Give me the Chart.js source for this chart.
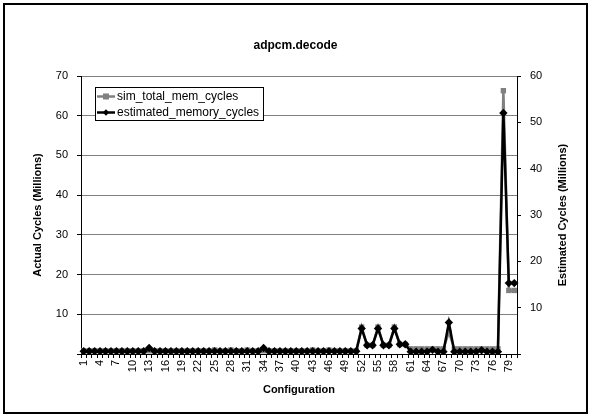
<!DOCTYPE html>
<html>
<head>
<meta charset="utf-8">
<script src="https://cdn.jsdelivr.net/npm/chart.js@4"></script>
<style>
html,body{margin:0;padding:0;background:#fff;}
#wrap{width:591px;height:417px;}
</style>
</head>
<body>
<div id="wrap"><canvas id="c" width="591" height="417"></canvas></div>
<script>
const categories = [1,2,3,4,5,6,7,8,9,10,11,12,13,14,15,16,17,18,19,20,
21,22,23,24,25,26,27,28,29,30,31,32,33,34,35,36,37,38,39,40,
41,42,43,44,45,46,47,48,49,50,51,52,53,54,55,56,57,58,59,60,
61,62,63,64,65,66,67,68,69,70,71,72,73,74,75,76,77,78,79,80];

const simTotalMemCycles = [
0.8,0.8,0.8,0.8,0.8,0.8,0.8,0.8,0.8,0.8,
0.8,0.8,0.8,0.8,0.8,0.8,0.8,0.8,0.8,0.8,
0.8,0.8,0.8,0.8,1.0,0.8,0.8,1.0,0.8,0.8,
1.0,0.8,0.8,0.8,0.8,0.8,0.8,0.8,0.8,0.8,
0.8,0.8,1.0,0.8,0.8,1.0,0.8,0.8,0.8,0.8,
0.8,6.8,2.2,2.2,6.8,2.2,2.2,6.8,2.4,2.4,
1.3,1.3,1.3,1.3,1.3,1.3,1.3,5.5,1.3,1.3,
1.3,1.3,1.3,1.3,1.3,1.3,1.3,66.3,16.0,16.0];

const estimatedMemoryCycles = [
0.6,0.6,0.6,0.6,0.6,0.6,0.6,0.6,0.6,0.6,
0.6,0.6,1.3,0.6,0.6,0.6,0.6,0.6,0.6,0.6,
0.6,0.6,0.6,0.6,0.6,0.6,0.6,0.6,0.6,0.6,
0.6,0.6,0.6,1.3,0.6,0.6,0.6,0.6,0.6,0.6,
0.6,0.6,0.6,0.6,0.6,0.6,0.6,0.6,0.6,0.6,
0.6,5.5,1.9,1.9,5.5,1.9,1.9,5.5,2.1,2.1,
0.5,0.5,0.5,0.5,0.9,0.5,0.5,6.8,0.5,0.5,
0.5,0.5,0.5,0.8,0.5,0.5,0.5,52.0,15.3,15.3];

const leftTicks = [0,10,20,30,40,50,60,70];
const rightTicks = [0,10,20,30,40,50,60];
const seriesNames = ['sim_total_mem_cycles','estimated_memory_cycles'];
const chartTitle = 'adpcm.decode';
const xTitle = 'Configuration';
const leftTitle = 'Actual Cycles (Millions)';
const rightTitle = 'Estimated Cycles (Millions)';

const FONT = "'Liberation Sans', Arial, sans-serif";
const GRAY = '#808080';

const bgPlugin = {
  id: 'bg',
  beforeDraw(chart) {
    const ctx = chart.ctx;
    ctx.save();
    ctx.fillStyle = '#fff';
    ctx.fillRect(0, 0, chart.width, chart.height);
    ctx.restore();
  },
  afterDraw(chart) {
    const ctx = chart.ctx;
    const ca = chart.chartArea;
    ctx.save();
    // outer frame
    ctx.strokeStyle = '#000';
    ctx.lineWidth = 2;
    ctx.strokeRect(4, 4, chart.width - 8, chart.height - 8);
    // right axis title (reads bottom to top)
    ctx.translate(562.5, (ca.top + ca.bottom) / 2);
    ctx.rotate(-Math.PI / 2);
    ctx.font = "bold 11px " + FONT;
    ctx.fillStyle = '#000';
    ctx.textAlign = 'center';
    ctx.textBaseline = 'middle';
    ctx.fillText(rightTitle, 0, 0);
    ctx.restore();

    // legend box inside plot
    const lx = ca.left + 14, ly = ca.top + 11, lw = 168, lh = 33;
    ctx.save();
    ctx.fillStyle = '#fff';
    ctx.fillRect(lx, ly, lw, lh);
    ctx.strokeStyle = '#000';
    ctx.lineWidth = 1;
    ctx.strokeRect(lx + 0.5, ly + 0.5, lw, lh);
    const rows = [ly + 9.5, ly + 25.5];
    const colors = [GRAY, '#000'];
    for (let i = 0; i < 2; i++) {
      const y = rows[i];
      ctx.strokeStyle = colors[i];
      ctx.lineWidth = 2.5;
      ctx.beginPath();
      ctx.moveTo(lx + 2, y);
      ctx.lineTo(lx + 20, y);
      ctx.stroke();
      ctx.fillStyle = colors[i];
      const cx = lx + 11;
      if (i === 0) {
        ctx.fillRect(cx - 3, y - 3, 6, 6);
      } else {
        ctx.beginPath();
        ctx.moveTo(cx - 3.2, y);
        ctx.lineTo(cx, y - 3.2);
        ctx.lineTo(cx + 3.2, y);
        ctx.lineTo(cx, y + 3.2);
        ctx.closePath();
        ctx.fill();
      }
      ctx.fillStyle = '#000';
      ctx.font = "12px " + FONT;
      ctx.textAlign = 'left';
      ctx.textBaseline = 'middle';
      ctx.fillText(seriesNames[i], lx + 22, y + 0.5);
    }
    ctx.restore();
  }
};

new Chart(document.getElementById('c'), {
  type: 'line',
  data: {
    labels: categories,
    datasets: [
      {
        label: seriesNames[0],
        data: simTotalMemCycles,
        yAxisID: 'y',
        borderColor: GRAY,
        backgroundColor: GRAY,
        borderWidth: 2.5,
        pointStyle: 'rect',
        pointRadius: 3.8,
        pointBorderWidth: 0,
        tension: 0,
        order: 2
      },
      {
        label: seriesNames[1],
        data: estimatedMemoryCycles,
        yAxisID: 'y1',
        borderColor: '#000',
        backgroundColor: '#000',
        borderWidth: 2.5,
        pointStyle: 'rectRot',
        pointRadius: 4.2,
        pointBorderWidth: 0,
        tension: 0,
        order: 1
      }
    ]
  },
  options: {
    responsive: false,
    animation: false,
    devicePixelRatio: 1,
    layout: { padding: 0 },
    plugins: {
      legend: { display: false },
      tooltip: { enabled: false },
      title: {
        display: true,
        text: chartTitle,
        color: '#000',
        font: { family: FONT, size: 12, weight: 'bold', lineHeight: 1.2 },
        padding: { top: 38, bottom: 23.6 }
      }
    },
    scales: {
      x: {
        type: 'category',
        offset: true,
        afterFit(s) { s.height = 63; },
        grid: {
          display: true,
          drawOnChartArea: false,
          offset: true,
          tickLength: 4,
          tickColor: '#000',
          color: '#000'
        },
        border: { display: true, color: '#000', width: 1 },
        ticks: {
          autoSkip: false,
          minRotation: 90,
          maxRotation: 90,
          padding: 2,
          color: '#000',
          font: { family: FONT, size: 11 },
          callback(val, idx) { return idx % 3 === 0 ? String(categories[idx]) : ''; }
        },
        title: {
          display: true,
          text: xTitle,
          color: '#000',
          font: { family: FONT, size: 11, weight: 'bold', lineHeight: 1.2 },
          padding: { top: 0, bottom: 20.4 }
        }
      },
      y: {
        type: 'linear',
        position: 'left',
        min: leftTicks[0],
        max: leftTicks[leftTicks.length - 1],
        afterFit(s) { s.width = 81; },
        afterBuildTicks(s) { s.ticks = leftTicks.map(v => ({ value: v })); },
        grid: {
          color: (c) => (c.tick && c.tick.value === 0) ? '#000' : GRAY,
          tickColor: '#000',
          tickLength: 4,
          lineWidth: 1
        },
        border: { display: true, color: '#000', width: 1 },
        ticks: {
          padding: 9,
          color: '#000',
          font: { family: FONT, size: 11 },
          callback(v) { return v === 0 ? '' : v; }
        },
        title: {
          display: true,
          text: leftTitle,
          color: '#000',
          font: { family: FONT, size: 11, weight: 'bold', lineHeight: 1.2 },
          padding: { top: 31.4, bottom: 0 }
        }
      },
      y1: {
        type: 'linear',
        position: 'right',
        min: rightTicks[0],
        max: rightTicks[rightTicks.length - 1],
        afterFit(s) { s.width = 74; },
        afterBuildTicks(s) { s.ticks = rightTicks.map(v => ({ value: v })); },
        grid: {
          drawOnChartArea: false,
          tickColor: '#000',
          tickLength: 4
        },
        border: { display: true, color: '#000', width: 1 },
        ticks: {
          padding: 9,
          color: '#000',
          font: { family: FONT, size: 11 },
          callback(v) { return v === 0 ? '' : v; }
        }
      }
    }
  },
  plugins: [bgPlugin]
});
</script>
</body>
</html>
